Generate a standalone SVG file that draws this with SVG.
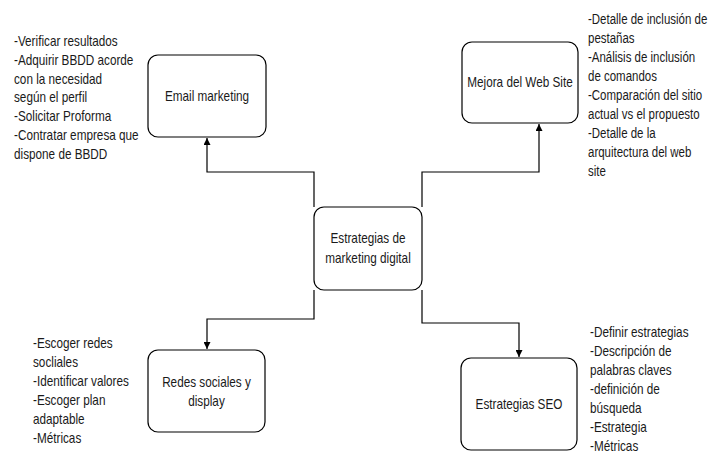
<svg xmlns="http://www.w3.org/2000/svg" width="710" height="454" viewBox="0 0 710 454">
<defs>
<style>
.box{fill:#fff;stroke:#000;stroke-width:1.2}
.edge{fill:none;stroke:#000;stroke-width:1.2}
text{font-family:"Liberation Sans",Arial,sans-serif;font-size:14px;fill:#1a1a1a}
.c{text-anchor:middle}
</style>
<marker id="arr" viewBox="0 0 10 10" refX="10" refY="5" markerWidth="7" markerHeight="7" markerUnits="userSpaceOnUse" orient="auto">
<path d="M0,0 L10,5 L0,10 z" fill="#000"/>
</marker>
</defs>
<rect width="710" height="454" fill="#fff"/>
<g id="connectors">
<path class="edge" d="M314,207 V172 H207 V138" marker-end="url(#arr)"/>
<path class="edge" d="M422,207 V172 H539 V124" marker-end="url(#arr)"/>
<path class="edge" d="M314,290 V319 H207 V349" marker-end="url(#arr)"/>
<path class="edge" d="M422,290 V323 H519 V357" marker-end="url(#arr)"/>
</g>
<g id="center">
<rect class="box" x="314" y="207" width="108" height="83" rx="10"/>
<text class="c" transform="translate(368,0) scale(0.84,1)"><tspan x="0" y="243">Estrategias de</tspan><tspan x="0" y="263">marketing digital</tspan></text>
</g>
<g id="email">
<rect class="box" x="148" y="55" width="118" height="82" rx="10"/>
<text class="c" transform="translate(207,0) scale(0.84,1)"><tspan x="0" y="101">Email marketing</tspan></text>
</g>
<g id="web">
<rect class="box" x="462" y="42" width="116" height="81" rx="10"/>
<text class="c" transform="translate(520,0) scale(0.84,1)"><tspan x="0" y="87">Mejora del Web Site</tspan></text>
</g>
<g id="redes">
<rect class="box" x="148" y="350" width="117" height="82" rx="10"/>
<text class="c" transform="translate(206.5,0) scale(0.84,1)"><tspan x="0" y="387">Redes sociales y</tspan><tspan x="0" y="406">display</tspan></text>
</g>
<g id="seo">
<rect class="box" x="461" y="358" width="116" height="92" rx="10"/>
<text class="c" transform="translate(519,0) scale(0.84,1)"><tspan x="0" y="409">Estrategias SEO</tspan></text>
</g>
<g id="notes-email">
<text transform="translate(14,0) scale(0.84,1)">
<tspan x="0" y="46">-Verificar resultados</tspan>
<tspan x="0" y="64.8">-Adquirir BBDD acorde</tspan>
<tspan x="0" y="83.6">con la necesidad</tspan>
<tspan x="0" y="102.4">según el perfil</tspan>
<tspan x="0" y="121.2">-Solicitar Proforma</tspan>
<tspan x="0" y="140">-Contratar empresa que</tspan>
<tspan x="0" y="158.8">dispone de BBDD</tspan>
</text>
</g>
<g id="notes-web">
<text transform="translate(588,0) scale(0.82,1)">
<tspan x="0" y="24">-Detalle de inclusión de</tspan>
<tspan x="0" y="43">pestañas</tspan>
<tspan x="0" y="62">-Análisis de inclusión</tspan>
<tspan x="0" y="81">de comandos</tspan>
<tspan x="0" y="100">-Comparación del sitio</tspan>
<tspan x="0" y="119">actual vs el propuesto</tspan>
<tspan x="0" y="138">-Detalle de la</tspan>
<tspan x="0" y="157">arquitectura del web</tspan>
<tspan x="0" y="176">site</tspan>
</text>
</g>
<g id="notes-redes">
<text transform="translate(33,0) scale(0.84,1)">
<tspan x="0" y="348">-Escoger redes</tspan>
<tspan x="0" y="367">socliales</tspan>
<tspan x="0" y="386">-Identificar valores</tspan>
<tspan x="0" y="405">-Escoger plan</tspan>
<tspan x="0" y="424">adaptable</tspan>
<tspan x="0" y="443">-Métricas</tspan>
</text>
</g>
<g id="notes-seo">
<text transform="translate(590,0) scale(0.84,1)">
<tspan x="0" y="337">-Definir estrategias</tspan>
<tspan x="0" y="356">-Descripción de</tspan>
<tspan x="0" y="375">palabras claves</tspan>
<tspan x="0" y="394">-definición de</tspan>
<tspan x="0" y="413">búsqueda</tspan>
<tspan x="0" y="432">-Estrategia</tspan>
<tspan x="0" y="451">-Métricas</tspan>
</text>
</g>
</svg>
